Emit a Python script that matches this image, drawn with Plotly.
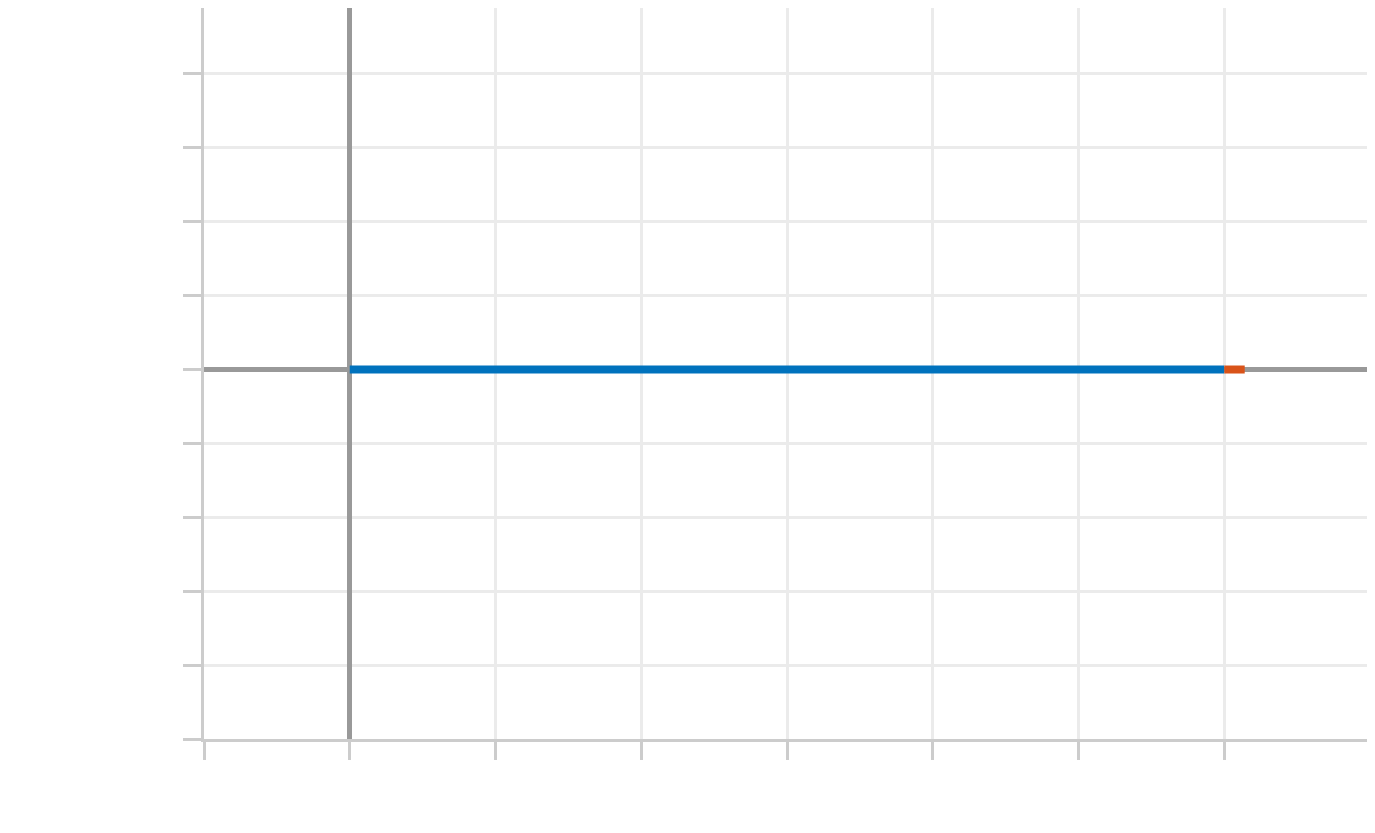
import plotly.graph_objects as go

blue_x = [0, 6]
blue_y = [0, 0]
red_x = [6, 6.14]
red_y = [0, 0]

fig = go.Figure()
fig.add_trace(go.Scatter(x=blue_x, y=blue_y, mode="lines",
                         line=dict(color="#0072bd", width=8)))
fig.add_trace(go.Scatter(x=red_x, y=red_y, mode="lines",
                         line=dict(color="#d95319", width=8)))

axis_style = dict(
    showgrid=True, gridcolor="#ebebeb", gridwidth=3,
    zeroline=True, zerolinecolor="#999999", zerolinewidth=5,
    showline=True, linecolor="#cccccc", linewidth=3,
    ticks="outside", ticklen=18, tickwidth=3, tickcolor="#cccccc",
    showticklabels=False,
)
fig.update_xaxes(range=[-1, 6.979], tick0=0, dtick=1, **axis_style)
fig.update_yaxes(range=[-5, 4.892], tick0=0, dtick=1, **axis_style)
fig.update_layout(
    width=1359, height=817, showlegend=False,
    margin=dict(l=196, r=0, t=0, b=86),
    plot_bgcolor="white", paper_bgcolor="white",
)
fig.write_html("out.html")
